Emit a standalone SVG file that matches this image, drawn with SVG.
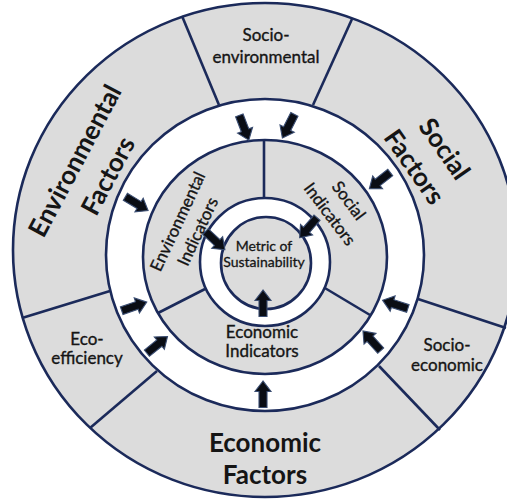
<svg xmlns="http://www.w3.org/2000/svg" xmlns:xlink="http://www.w3.org/1999/xlink" width="507" height="504" viewBox="0 0 507 504">
  <style>
    .band { stroke: none; }
    .grey { fill: #dcdcdc; }
    .white { fill: #ffffff; }
    .edge { fill: none; stroke: #1b2a5a; stroke-width: 2.6; }
    .div { stroke: #1b2a5a; stroke-width: 2.6; stroke-linecap: butt; }
    .lbl { font-family: Lato, "Open Sans", sans-serif; fill: #151515; text-anchor: middle; }
    .big { font-size: 26px; font-weight: bold; }
    .mid { font-size: 17px; stroke: #151515; stroke-width: 0.35; }
    .small { font-size: 14px; stroke: #151515; stroke-width: 0.3; }
    .arrow { fill: #0a0d14; stroke: #3a4d72; stroke-width: 1.1; stroke-linejoin: miter; }
  </style>
  <defs>
    <!-- block arrow centred on the origin, pointing along +x -->
    <path id="arr" d="M13.5,0 L3,-8 L3,-4 L-13,-4 L-13,4 L3,4 L3,8 Z"/>
  </defs>

  <rect width="507" height="504" fill="#ffffff"/>

  <!-- concentric bands -->
  <g id="rings">
    <ellipse class="band grey" cx="265" cy="250" rx="252" ry="247"/>
    <ellipse class="band white" cx="265" cy="255" rx="159" ry="156"/>
    <ellipse class="band grey" cx="265" cy="257" rx="122" ry="117"/>
    <ellipse class="band white" cx="265" cy="262" rx="65" ry="64"/>
    <ellipse class="band grey" cx="266" cy="263" rx="45" ry="46"/>
  </g>

  <!-- sector dividers -->
  <g id="dividers">
    <line class="div" x1="182" y1="16" x2="219" y2="105"/>
    <line class="div" x1="352" y1="19" x2="313" y2="105"/>
    <line class="div" x1="22" y1="318" x2="110" y2="291"/>
    <line class="div" x1="90" y1="428" x2="157" y2="371"/>
    <line class="div" x1="440" y1="430" x2="379" y2="366"/>
    <line class="div" x1="506" y1="328" x2="418" y2="299"/>
    <line class="div" x1="264" y1="140" x2="264" y2="198"/>
    <line class="div" x1="158" y1="313" x2="205" y2="289"/>
    <line class="div" x1="370" y1="315" x2="324" y2="287.5"/>
  </g>

  <g id="ring-edges">
    <ellipse class="edge" cx="265" cy="250" rx="252" ry="247"/>
    <ellipse class="edge" cx="265" cy="255" rx="159" ry="156"/>
    <ellipse class="edge" cx="265" cy="257" rx="122" ry="117"/>
    <ellipse class="edge" cx="265" cy="262" rx="65" ry="64"/>
    <ellipse class="edge" cx="266" cy="263" rx="45" ry="46"/>
  </g>

  <!-- arrows -->
  <g id="connectors">
    <use class="arrow" xlink:href="#arr" href="#arr" transform="translate(244,127.5) rotate(69)"/>
    <use class="arrow" xlink:href="#arr" href="#arr" transform="translate(288.5,126) rotate(117)"/>
    <use class="arrow" xlink:href="#arr" href="#arr" transform="translate(380,180.5) rotate(142)"/>
    <use class="arrow" xlink:href="#arr" href="#arr" transform="translate(136.5,203.5) rotate(31)"/>
    <use class="arrow" xlink:href="#arr" href="#arr" transform="translate(134,306.5) rotate(-19)"/>
    <use class="arrow" xlink:href="#arr" href="#arr" transform="translate(157,345) rotate(-39)"/>
    <use class="arrow" xlink:href="#arr" href="#arr" transform="translate(263,394.5) rotate(-90)"/>
    <use class="arrow" xlink:href="#arr" href="#arr" transform="translate(395.5,304.5) rotate(198)"/>
    <use class="arrow" xlink:href="#arr" href="#arr" transform="translate(372,341) rotate(-132)"/>
    <use class="arrow" xlink:href="#arr" href="#arr" transform="translate(215,240.5) rotate(43)"/>
    <use class="arrow" xlink:href="#arr" href="#arr" transform="translate(308.5,227.5) rotate(131)"/>
    <use class="arrow" xlink:href="#arr" href="#arr" transform="translate(263,303.5) rotate(-90)"/>
  </g>

  <g id="socio-environmental">
    <text class="lbl mid" x="266" y="41">Socio-</text>
    <text class="lbl mid" x="266" y="63">environmental</text>
  </g>
  <g id="environmental-factors">
    <text class="lbl big" transform="translate(83,165) rotate(-62)">Environmental</text>
    <text class="lbl big" transform="translate(116,180) rotate(-62)">Factors</text>
  </g>
  <g id="social-factors">
    <text class="lbl big" transform="translate(437,154) rotate(55)">Social</text>
    <text class="lbl big" transform="translate(407,172) rotate(55)">Factors</text>
  </g>
  <g id="eco-efficiency">
    <text class="lbl mid" x="87" y="345">Eco-</text>
    <text class="lbl mid" x="87" y="364">efficiency</text>
  </g>
  <g id="socio-economic">
    <text class="lbl mid" x="447" y="351">Socio-</text>
    <text class="lbl mid" x="447" y="371">economic</text>
  </g>
  <g id="economic-factors">
    <text class="lbl big" x="265" y="452">Economic</text>
    <text class="lbl big" x="265" y="484">Factors</text>
  </g>
  <g id="environmental-indicators">
    <text class="lbl mid" transform="translate(183,224) rotate(-65)">Environmental</text>
    <text class="lbl mid" transform="translate(203,234) rotate(-65)">Indicators</text>
  </g>
  <g id="social-indicators">
    <text class="lbl mid" transform="translate(344,204) rotate(53)">Social</text>
    <text class="lbl mid" transform="translate(325,217.6) rotate(53)">Indicators</text>
  </g>
  <g id="economic-indicators">
    <text class="lbl mid" x="262" y="338">Economic</text>
    <text class="lbl mid" x="262" y="357">Indicators</text>
  </g>
  <g id="metric-of-sustainability">
    <text class="lbl small" x="264" y="251">Metric of</text>
    <text class="lbl small" x="264" y="267">Sustainability</text>
  </g>
</svg>
